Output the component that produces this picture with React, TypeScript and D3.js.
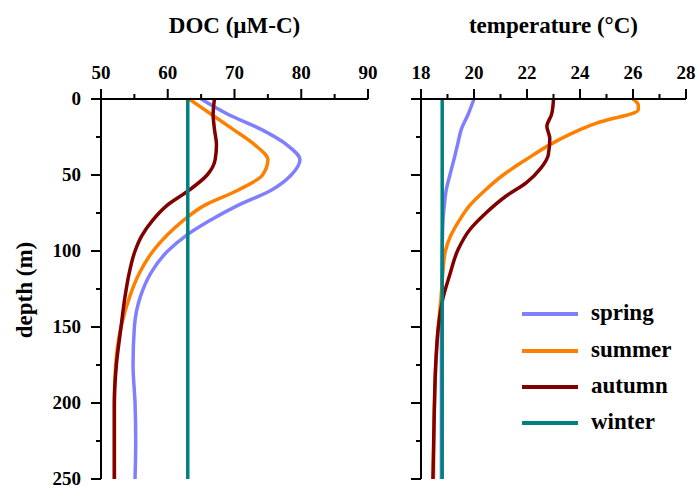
import React from "react";
import * as d3 from "d3";

// ---------- data ----------
const seasons = ["spring", "summer", "autumn", "winter"];
const seasonColors = ["#8080ff", "#ff8000", "#800000", "#008080"];

const docTicks = [50, 60, 70, 80, 90];
const tempTicks = [18, 20, 22, 24, 26, 28];
const depthTicks = [0, 50, 100, 150, 200, 250];

const docDepth = [0, 10, 20, 30, 40, 50, 60, 70, 80, 90, 100, 115, 130, 150, 175, 200, 225, 250];
const docSpring = [65, 69, 74, 77.8, 79.8, 78.5, 75.5, 70.5, 66.3, 62.7, 60, 57.4, 55.9, 55.0, 54.8, 55.1, 55.2, 55.1];
const docSummer = [63.2, 66.5, 69.8, 73, 75, 74.2, 70.5, 65.5, 62.3, 59.8, 57.8, 55.7, 54.3, 53.0, 52.2, 52, 52, 52];
const docAutumn = [67, 66.8, 67, 67.3, 67.1, 65.9, 63.2, 59.9, 57.7, 56.1, 55.1, 54.2, 53.6, 53.0, 52.3, 52, 52, 52];
const docWinter = [63, 63, 63, 63, 63, 63, 63, 63, 63, 63, 63, 63, 63, 63, 63, 63, 63, 63];

const tSpringDepth = [0, 10, 20, 30, 40, 50, 60, 70, 80, 90, 100, 115, 130, 150, 175, 200, 250];
const tSpring = [20.0, 19.78, 19.52, 19.38, 19.24, 19.09, 18.95, 18.88, 18.83, 18.81, 18.8, 18.79, 18.78, 18.77, 18.77, 18.77, 18.77];

const tSummerDepth = [0, 4, 7, 10, 13, 16, 21, 30, 40, 50, 60, 70, 80, 90, 100, 115, 130, 150, 175, 200, 250];
const tSummer = [26.0, 26.2, 26.2, 25.9, 25.2, 24.6, 23.9, 22.87, 21.95, 21.1, 20.42, 19.84, 19.44, 19.12, 18.92, 18.82, 18.76, 18.65, 18.56, 18.51, 18.47];

const tAutumnDepth = [0, 10, 18, 26, 37, 46, 55, 64, 75, 86, 99, 116, 131, 151, 173, 206, 250];
const tAutumn = [23.0, 22.93, 22.75, 22.86, 22.8, 22.5, 21.98, 21.2, 20.45, 19.84, 19.4, 19.08, 18.83, 18.65, 18.56, 18.5, 18.45];

const tWinterDepth = [0, 250];
const tWinter = [18.8, 18.8];

// ---------- layout ----------
const W = 700;
const H = 486;
const top = 99;
const bottom = 479;
const font = "'Liberation Serif', 'Times New Roman', serif";

const yScale = d3.scaleLinear().domain([0, 250]).range([top, bottom]);
const xDoc = d3.scaleLinear().domain([50, 90]).range([101, 368]);
const xTemp = d3.scaleLinear().domain([18, 28]).range([421, 686]);

type Series = { depth: number[]; vals: number[]; color: string };

function makePath(x: d3.ScaleLinear<number, number>, s: Series) {
  const pts: [number, number][] = s.depth.map((d, i) => [s.vals[i], d]);
  const gen = d3
    .line<[number, number]>()
    .x((p) => x(p[0]))
    .y((p) => yScale(p[1]))
    .curve(d3.curveMonotoneY);
  return gen(pts) || "";
}

function Panel({
  x,
  ticks,
  minorStep,
  title,
  series,
  showYLabels,
}: {
  x: d3.ScaleLinear<number, number>;
  ticks: number[];
  minorStep: number;
  title: string;
  series: Series[];
  showYLabels: boolean;
}) {
  const [x0, x1] = x.domain();
  const minors: number[] = [];
  for (let v = x0 + minorStep; v < x1; v += 2 * minorStep) minors.push(v);
  const yMinors = [25, 75, 125, 175, 225];
  const ax = x.range()[0];
  const [r0, r1] = x.range();
  return (
    <g>
      <text
        x={(r0 + r1) / 2}
        y={33}
        textAnchor="middle"
        fontFamily={font}
        fontWeight="bold"
        fontSize={23}
      >
        {title}
      </text>
      {series.map((s, i) => (
        <path key={i} d={makePath(x, s)} fill="none" stroke={s.color} strokeWidth={3.5} strokeLinejoin="round" />
      ))}
      {/* top axis */}
      <line x1={ax} x2={r1} y1={top} y2={top} stroke="#000" strokeWidth={2} />
      {ticks.map((t) => (
        <g key={"t" + t}>
          <line x1={x(t)} x2={x(t)} y1={top} y2={top - 10} stroke="#000" strokeWidth={2} />
          <text x={x(t)} y={79} textAnchor="middle" fontFamily={font} fontWeight="bold" fontSize={19}>
            {t}
          </text>
        </g>
      ))}
      {minors.map((t) => (
        <line key={"m" + t} x1={x(t)} x2={x(t)} y1={top} y2={top - 5} stroke="#000" strokeWidth={2} />
      ))}
      {/* left axis */}
      <line x1={ax} x2={ax} y1={top} y2={bottom} stroke="#000" strokeWidth={2} />
      {depthTicks.map((d) => (
        <g key={"d" + d}>
          <line x1={ax} x2={ax - 10} y1={yScale(d)} y2={yScale(d)} stroke="#000" strokeWidth={2} />
          {showYLabels && (
            <text
              x={81}
              y={yScale(d)}
              dy="0.32em"
              textAnchor="end"
              fontFamily={font}
              fontWeight="bold"
              fontSize={19}
            >
              {d}
            </text>
          )}
        </g>
      ))}
      {yMinors.map((d) => (
        <line key={"dm" + d} x1={ax} x2={ax - 5} y1={yScale(d)} y2={yScale(d)} stroke="#000" strokeWidth={2} />
      ))}
    </g>
  );
}

export default function App() {
  const docSeries: Series[] = [
    { depth: docDepth, vals: docSpring, color: seasonColors[0] },
    { depth: docDepth, vals: docSummer, color: seasonColors[1] },
    { depth: docDepth, vals: docAutumn, color: seasonColors[2] },
    { depth: docDepth, vals: docWinter, color: seasonColors[3] },
  ];
  const tempSeries: Series[] = [
    { depth: tSpringDepth, vals: tSpring, color: seasonColors[0] },
    { depth: tSummerDepth, vals: tSummer, color: seasonColors[1] },
    { depth: tAutumnDepth, vals: tAutumn, color: seasonColors[2] },
    { depth: tWinterDepth, vals: tWinter, color: seasonColors[3] },
  ];
  const legendY = [314, 351, 387, 423];
  return (
    <svg
      width={W}
      height={H}
      viewBox={`0 0 ${W} ${H}`}
      style={{ position: "absolute", left: 0, top: 0, background: "#fff" }}
    >
      <rect x={0} y={0} width={W} height={H} fill="#fff" />
      <Panel x={xDoc} ticks={docTicks} minorStep={5} title="DOC (µM-C)" series={docSeries} showYLabels={true} />
      <Panel x={xTemp} ticks={tempTicks} minorStep={1} title="temperature (°C)" series={tempSeries} showYLabels={false} />
      <text
        transform={`translate(32, 290) rotate(-90)`}
        textAnchor="middle"
        fontFamily={font}
        fontWeight="bold"
        fontSize={23}
      >
        depth (m)
      </text>
      {seasons.map((s, i) => (
        <g key={s}>
          <line x1={522} x2={578} y1={legendY[i]} y2={legendY[i]} stroke={seasonColors[i]} strokeWidth={4} />
          <text x={591} y={legendY[i] + 6} fontFamily={font} fontWeight="bold" fontSize={23}>
            {s}
          </text>
        </g>
      ))}
    </svg>
  );
}
